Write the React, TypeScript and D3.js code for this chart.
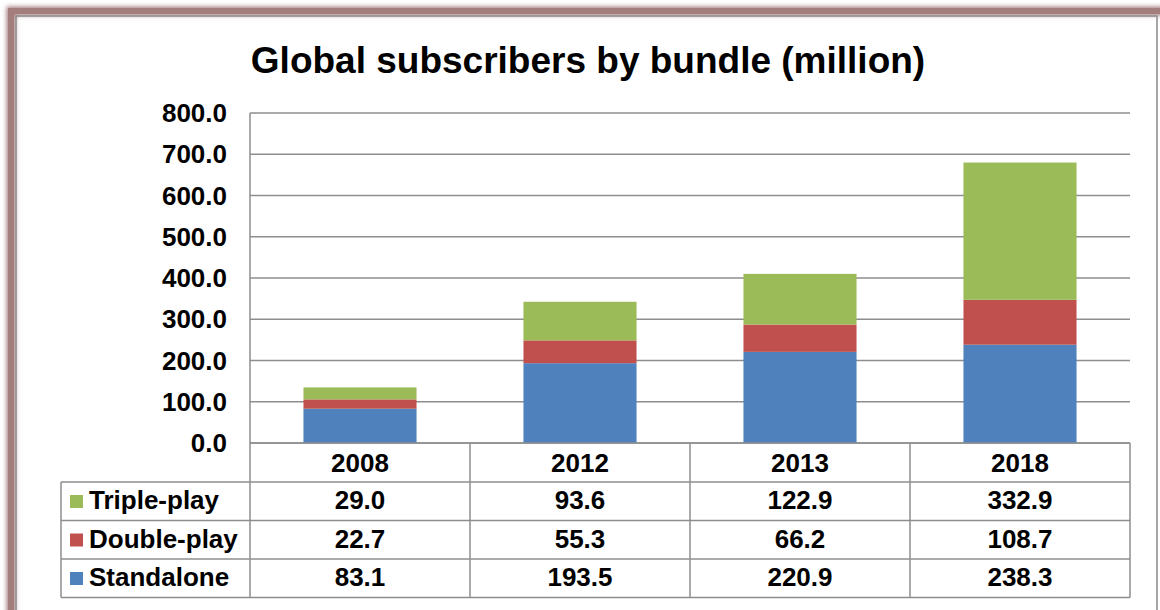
import React from "react";
import * as d3 from "d3";

const years = ["2008", "2012", "2013", "2018"];
const standalone = [83.1, 193.5, 220.9, 238.3];
const doublePlay = [22.7, 55.3, 66.2, 108.7];
const triplePlay = [29.0, 93.6, 122.9, 332.9];
const yTicks = [0, 100, 200, 300, 400, 500, 600, 700, 800];
const seriesNames = ["Standalone", "Double-play", "Triple-play"];
const seriesColors = ["#4f81bd", "#c0504d", "#9bbb59"];

const W = 1160;
const H = 610;
const plotL = 250;
const plotR = 1130;
const plotT = 113;
const plotB = 443;
const tableL = 61;
const rowH = 38.5;
const gridColor = "#8e8e8e";
const FONT = "'Liberation Sans', Arial, sans-serif";
const FS = 26;

export default function App() {
  const x = d3.scaleBand<string>().domain(years).range([plotL, plotR]).paddingInner(0).paddingOuter(0);
  const y = d3.scaleLinear().domain([0, 800]).range([plotB, plotT]);
  const barW = x.bandwidth() * 0.514;

  const data = years.map((yr, i) => ({ year: yr, Standalone: standalone[i], "Double-play": doublePlay[i], "Triple-play": triplePlay[i] }));
  const stack = d3.stack<any>().keys(seriesNames)(data);

  const tableRows = [
    { name: "Triple-play", color: seriesColors[2], values: triplePlay },
    { name: "Double-play", color: seriesColors[1], values: doublePlay },
    { name: "Standalone", color: seriesColors[0], values: standalone },
  ];
  const headerB = plotB + 39;
  const tableB = headerB + rowH * 3;

  return (
    <svg width={W} height={H} style={{ position: "absolute", left: 0, top: 0, background: "#fff" }} fontFamily={FONT}>
      <defs>
        <filter id="blur" x="-5%" y="-5%" width="110%" height="110%">
          <feGaussianBlur stdDeviation="2" />
        </filter>
      </defs>
      <rect x={0} y={0} width={W} height={H} fill="#fff" />
      <rect x={11} y={11} width={1160} height={640} fill="none" stroke="#a88282" strokeWidth={9} filter="url(#blur)" />
      <rect x={11} y={11} width={1160} height={640} fill="none" stroke="#a47d7d" strokeWidth={6} />
      <rect x={16} y={16} width={1141} height={640} fill="none" stroke="#8a8a8a" strokeWidth={1.5} />

      <text x={588} y={73} textAnchor="middle" fontSize={37} fontWeight="bold" fill="#000">
        Global subscribers by bundle (million)
      </text>

      {yTicks.map((t) => (
        <line key={t} x1={plotL} x2={plotR} y1={y(t)} y2={y(t)} stroke={gridColor} strokeWidth={1.5} />
      ))}
      {yTicks.map((t) => (
        <text key={"l" + t} x={227} y={y(t) + 9} textAnchor="end" fontSize={FS} fontWeight="bold" fill="#000">
          {t.toFixed(1)}
        </text>
      ))}

      {stack.map((s, si) =>
        s.map((d, i) => (
          <rect
            key={si + "-" + i}
            x={(x(years[i]) as number) + (x.bandwidth() - barW) / 2}
            y={y(d[1])}
            width={barW}
            height={y(d[0]) - y(d[1])}
            fill={seriesColors[si]}
          />
        ))
      )}

      <g stroke={gridColor} strokeWidth={1.5} fill="none">
        <line x1={plotL} x2={plotL} y1={plotT} y2={tableB} />
        <line x1={plotL} x2={plotR} y1={plotB} y2={plotB} />
        <line x1={plotR} x2={plotR} y1={plotB} y2={tableB} />
        {years.slice(1).map((yr) => (
          <line key={yr} x1={x(yr) as number} x2={x(yr) as number} y1={plotB} y2={tableB} />
        ))}
        <line x1={tableL} x2={tableL} y1={headerB} y2={tableB} />
        {[0, 1, 2, 3].map((r) => (
          <line key={r} x1={tableL} x2={plotR} y1={headerB + r * rowH} y2={headerB + r * rowH} />
        ))}
      </g>
      {years.map((yr) => (
        <text key={yr} x={(x(yr) as number) + x.bandwidth() / 2} y={plotB + 28.5} textAnchor="middle" fontSize={FS} fontWeight="bold" fill="#000">
          {yr}
        </text>
      ))}
      {tableRows.map((row, r) => (
        <g key={row.name}>
          <rect x={70} y={headerB + r * rowH + 13} width={13} height={13} fill={row.color} />
          <text x={89} y={headerB + r * rowH + 27} fontSize={FS} fontWeight="bold" fill="#000">
            {row.name}
          </text>
          {row.values.map((v, i) => (
            <text key={i} x={(x(years[i]) as number) + x.bandwidth() / 2} y={headerB + r * rowH + 27} textAnchor="middle" fontSize={FS} fontWeight="bold" fill="#000">
              {v.toFixed(1)}
            </text>
          ))}
        </g>
      ))}
    </svg>
  );
}
